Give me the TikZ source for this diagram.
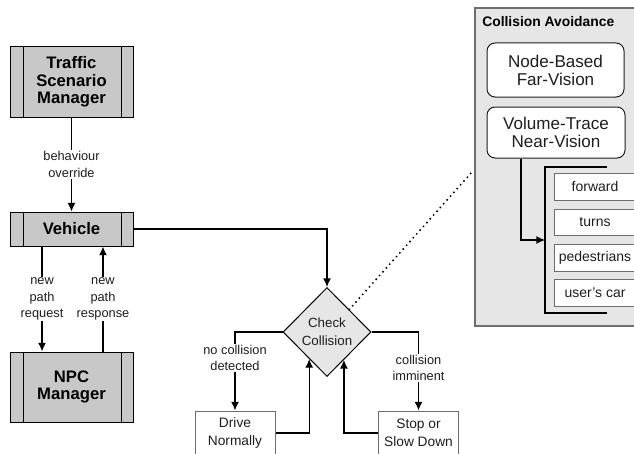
\documentclass[tikz,border=0pt]{standalone}
\usepackage{fontspec}
\setmainfont{Liberation Sans}
\usetikzlibrary{shapes.geometric,calc,arrows.meta}

\definecolor{boxgray}{HTML}{C8C8C8}
\definecolor{panelgray}{HTML}{E6E6E6}
\definecolor{edgegray}{HTML}{6E6E6E}
\definecolor{textgray}{HTML}{1E1E1E}

\begin{document}
\begin{tikzpicture}[x=0.75pt,y=0.75pt,yscale=-1,xscale=1,
  procbox/.style={draw, fill=boxgray, line width=0.75pt, minimum width=92.25pt, inner sep=0pt, align=center,
    font=\fontsize{12.5}{13}\selectfont\bfseries,
    path picture={
      \draw[line width=0.75pt] ([xshift=9.75pt]path picture bounding box.north west) -- ([xshift=9.75pt]path picture bounding box.south west);
      \draw[line width=0.75pt] ([xshift=-9pt]path picture bounding box.north east) -- ([xshift=-9pt]path picture bounding box.south east);}},
  actbox/.style={draw=edgegray, fill=white, line width=0.75pt, minimum width=60pt, minimum height=33pt, inner sep=0pt, align=center,
    text=textgray, font=\fontsize{10.3}{13.5}\selectfont},
  decision/.style={diamond, draw, fill=panelgray, line width=0.75pt, aspect=1, inner sep=0pt, minimum width=66pt, minimum height=66.75pt,
    align=center, text=textgray, font=\fontsize{10}{13.5}\selectfont},
  panel/.style={draw=edgegray, fill=panelgray, line width=1pt, inner sep=0pt},
  visionbox/.style={draw=textgray, fill=white, line width=0.75pt, rounded corners=6pt, inner sep=0pt, align=center,
    text=textgray, font=\fontsize{12.8}{13.5}\selectfont},
  casebox/.style={draw=edgegray, fill=white, line width=0.75pt, minimum width=61.5pt, inner sep=0pt,
    text=textgray, font=\fontsize{10.5}{12}\selectfont},
  lbl/.style={fill=white, inner sep=1pt, align=center, text=textgray, font=\fontsize{9.6}{12.2}\selectfont},
  conn/.style={->, >={Latex[length=6.5pt,width=6pt]}, line width=1pt},
  dotline/.style={line width=1.6pt, line cap=round, dash pattern=on 0pt off 3.8pt}]

\useasboundingbox (0,0) rectangle (634,453);
\clip (0,0) rectangle (634,453);

% managers and vehicle
\node[procbox, minimum height=52.5pt] (tsm) at (71.5,82) {Traffic\\Scenario\\Manager};
\node[procbox, minimum height=25.5pt] (vehicle) at (71.5,229) {Vehicle};
\node[procbox, minimum height=52.5pt] (npc) at (71.5,387) {NPC\\Manager};

\draw[conn] (tsm) -- node[lbl] {behaviour\\override} (vehicle);
\draw[conn] ([xshift=-22.1pt]vehicle.south) -- node[lbl] {new\\path\\request} ([xshift=-22.1pt]npc.north);
\draw[conn] ([xshift=23.6pt]npc.north) -- node[lbl] {new\\path\\response} ([xshift=23.6pt]vehicle.south);

% decision part
\node[decision] (check) at (327,332) {Check\\Collision};
\node[actbox] (drive) at (235,433) {Drive\\Normally};
\node[actbox] (stop) at (418.5,433) {Stop or\\Slow Down};

\draw[conn] (vehicle.east) -| (check.north);
\draw[conn] (check.west) -| node[lbl, pos=0.665] {no collision\\detected} (drive.north);
\draw[conn] (check.east) -| node[lbl, pos=0.73] {collision\\imminent} (stop.north);

\coordinate (backleft) at ($(check.south)!0.4!(check.west)$);
\coordinate (backright) at ($(check.south)!0.38!(check.east)$);
\draw[conn] (drive.east) -| (backleft);
\draw[conn] (stop.west) -| (backright);

% collision avoidance part
\node[panel, minimum width=153.75pt, minimum height=238.5pt] (avoid) at (577.5,167) {};
\node[anchor=west, inner sep=0pt, font=\fontsize{10.4}{12}\selectfont\bfseries] (avoidtitle) at (482,22) {Collision Avoidance};

\node[visionbox, minimum width=102.75pt, minimum height=40.5pt] (far) at (555.5,70) {Node-Based\\Far-Vision};
\node[visionbox, minimum width=103.5pt, minimum height=38.25pt] (near) at (556,132.5) {Volume-Trace\\Near-Vision};

\coordinate (brtop) at (607,167);
\coordinate (brbottom) at (607,313);
\draw[line width=1.5pt] (brtop) -- (545,167) -- (545,313) -- (brbottom);
\coordinate (brmid) at (545,240);
\draw[conn] ([xshift=-26.25pt]near.south) |- (brmid);

\node[casebox, minimum height=20.25pt] (forward) at (595,186.5) {forward};
\node[casebox, minimum height=19.5pt] (turns) at (595,222) {turns};
\node[casebox, minimum height=20.25pt] (peds) at (595,257.5) {pedestrians};
\node[casebox, minimum height=20.25pt] (usercar) at (595,292.5) {user{\char"0027}s car};

\coordinate (zoomend) at (472,172);
\coordinate (zoomstart) at ($(check.north)!0.5!(check.east)$);
\draw[dotline] (zoomstart) -- (zoomend);

\end{tikzpicture}
\end{document}
